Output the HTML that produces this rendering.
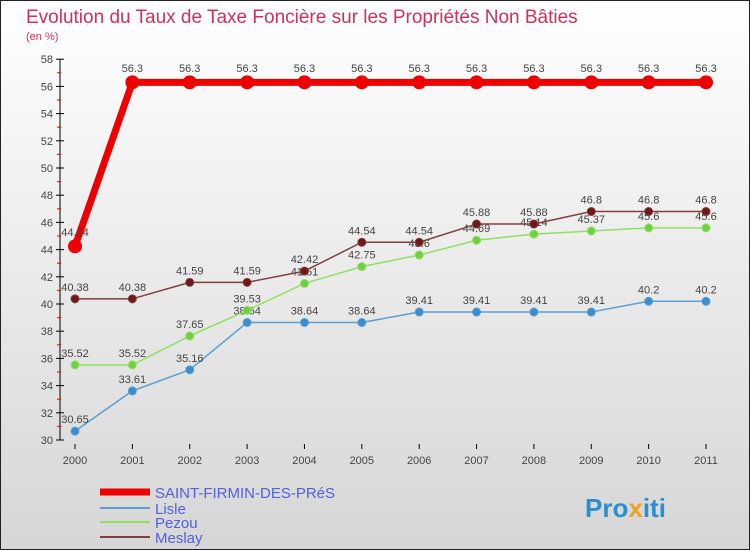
<!DOCTYPE html>
<html><head><meta charset="utf-8"><style>
body{margin:0;}
#wrap{width:748px;height:548px;border:1px solid #222;background:linear-gradient(#fff,#d6d6d6);position:relative;overflow:hidden;font-family:"Liberation Sans",sans-serif;}
svg{position:absolute;left:-1px;top:-1px;}
</style></head><body>
<div id="wrap">
<svg width="750" height="550" id="chart">
<text x="26" y="23" font-size="19" fill="#d0305a">Evolution du Taux de Taxe Foncière sur les Propriétés Non Bâties</text>
<text x="26" y="40" font-size="11" fill="#d0305a">(en %)</text>
<text x="585" y="517" font-size="26" font-weight="bold" fill="#2a8fd0">Pro<tspan fill="#f0a020">x</tspan>iti</text>
</svg>
</div>
<script>
const years=[2000,2001,2002,2003,2004,2005,2006,2007,2008,2009,2010,2011];
const saint=[44.24,56.3,56.3,56.3,56.3,56.3,56.3,56.3,56.3,56.3,56.3,56.3];
const lisle=[30.65,33.61,35.16,38.64,38.64,38.64,39.41,39.41,39.41,39.41,40.2,40.2];
const pezou=[35.52,35.52,37.65,39.53,41.51,42.75,43.6,44.69,45.14,45.37,45.6,45.6];
const meslay=[40.38,40.38,41.59,41.59,42.42,44.54,44.54,45.88,45.88,46.8,46.8,46.8];
const yTicks=[30,32,34,36,38,40,42,44,46,48,50,52,54,56,58];
const NS="http://www.w3.org/2000/svg";
const svg=document.getElementById('chart');
const X=i=>75+i*(706-75)/(years.length-1);
const Y=v=>440-(v-30)*13.6;
function mk(t,a,p){const e=document.createElementNS(NS,t);for(const k in a)e.setAttribute(k,a[k]);(p||svg).appendChild(e);return e;}
let ax=mk('line',{x1:60,y1:Y(58),x2:60,y2:440,stroke:'#000'});


yTicks.forEach(v=>{
 mk('line',{x1:56,y1:Y(v),x2:64,y2:Y(v),stroke:'#000'});
 if(v<58)mk('line',{x1:57,y1:Y(v+1),x2:61,y2:Y(v+1),stroke:'#e00'});
 const t=mk('text',{x:53,y:Y(v)+4,'text-anchor':'end','font-size':11,fill:'#444'});
 t.textContent=v;
 
 
});
years.forEach((y,i)=>{
 mk('line',{x1:X(i),y1:444,x2:X(i),y2:449,stroke:'#000'});
 const t=mk('text',{x:X(i),y:464,'text-anchor':'middle','font-size':11,fill:'#444'});
 t.textContent=y;
 
 
});
function series(vals,color,w,r,name,dot){
 const g=mk('g',{});
 
 
 mk('polyline',{points:vals.map((v,i)=>X(i)+','+Y(v)).join(' '),fill:'none',stroke:color,'stroke-width':w,'stroke-linejoin':'round'},g);
 vals.forEach((v,i)=>{
  const c=mk('circle',{cx:X(i),cy:Y(v),r:r,fill:dot,stroke:color,'stroke-width':1},g);
  
  
  const t=mk('text',{x:X(i),y:Y(v)-(r+4),'text-anchor':'middle','font-size':11,fill:'#444'},g);
  t.textContent=v;
  
  
 });
}
series(lisle,'#5ba0d0',1.5,4,'lisle','#3a8cd0');
series(pezou,'#90e060',1.5,4,'pezou','#70d040');
series(meslay,'#804040',1.5,4,'meslay','#701818');
series(saint,'#ee0000',7,6.5,'saint-firmin','#ee0000');
const legend=[['SAINT-FIRMIN-DES-PRéS','#ee0000',7,492],['Lisle','#5ba0d0',2,508],['Pezou','#90e060',2,522],['Meslay','#804040',2,537]];
legend.forEach(l=>{
 const g=mk('g',{});
 
 
 mk('line',{x1:100,y1:l[3],x2:150,y2:l[3],stroke:l[1],'stroke-width':l[2]},g);
 const t=mk('text',{x:155,y:l[3]+6,'font-size':15,fill:'#5060e0'},g);
 t.textContent=l[0];
});
</script>
</body></html>
